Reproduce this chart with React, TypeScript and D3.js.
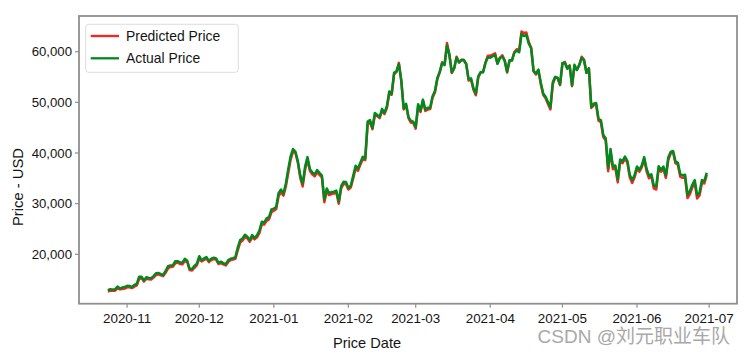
import React from "react";
import * as d3 from "d3";

const startDate = "2020-10-24";

const actualPrice: number[] = [
  12931, 13108, 13031, 13075, 13654, 13271, 13437, 13546, 13781,
  13737, 13550, 13950, 14133, 15579, 15565, 14833, 15479, 15332, 15290, 15701, 16276, 16317, 16068, 15955, 16716, 17645, 17804, 17817, 18621, 18642, 18370, 18364, 19107, 18732, 17150, 17108, 17718, 18177, 19625,
  18802, 19201, 19445, 18699, 19154, 19345, 19191, 18321, 18553, 18264, 18058, 18803, 19142, 19246, 19417, 21310, 22805, 23137, 23869, 23477, 22803, 23783, 23241, 23735, 24664, 26437, 26272, 27084, 27362, 28840, 29002,
  29374, 32127, 32782, 31971, 33992, 36824, 39371, 40797, 40254, 38356, 35566, 33922, 37316, 39187, 36825, 36178, 35792, 36631, 36070, 35548, 30826, 33006, 32068, 32289, 32367, 32569, 30433, 33467, 34316, 34270, 33115,
  33538, 35510, 37473, 36927, 38144, 39266, 38904, 46197, 46482, 44919, 47910, 47504, 47106, 48718, 47945, 49200, 52149, 51679, 55888, 56100, 57540, 54207, 48825, 49706, 47093, 46339, 46188, 45137,
  49631, 48378, 50538, 48561, 48927, 48912, 51206, 52246, 54824, 56008, 57805, 57332, 61243, 59302, 55907, 56804, 58870, 57858, 58346, 58313, 57523, 54529, 54738, 52774, 51704, 55137, 55974, 55947, 57750, 58918, 58800,
  59095, 59384, 57604, 58760, 59057, 58192, 56048, 58323, 58245, 59793, 60204, 59893, 63503, 63110, 63315, 61572, 60683, 56216, 55724, 56473, 53906, 51763, 51093, 50050, 49004, 54021, 55033, 54824, 53555, 57750,
  57828, 56631, 57200, 53333, 57424, 56396, 57356, 58803, 58232, 55859, 56704, 49150, 49716, 49880, 46760, 46456, 43537, 42909, 37002, 40782, 37304, 37536, 34770, 38705, 38402, 39294, 38436, 35697, 34616, 35678, 37332,
  36684, 37575, 39187, 36851, 35520, 35796, 33552, 33380, 37389, 36702, 37334, 35552, 39097, 40218, 40406, 38347, 38053, 35787, 35615, 35698, 31676, 32505, 33723, 34663, 31637, 32186, 34649, 34434, 36100,
];

const predictedPrice: number[] = [
  12650, 12800, 12850, 12820, 13300, 13100, 13150, 13250, 13480,
  13500, 13330, 13620, 13850, 15100, 15300, 14650, 15150, 15100, 15050, 15400, 15900, 16050, 15850, 15700, 16350, 17200, 17500, 17550, 18200, 18350, 18100, 18050, 18700, 18450, 16900, 16800, 17350, 17800, 19150,
  18600, 18900, 19150, 18450, 18850, 19050, 18950, 18100, 18250, 18000, 17800, 18450, 18850, 18950, 19100, 20800, 22300, 22700, 23400, 23150, 22500, 23350, 22950, 23350, 24200, 25900, 25900, 26600, 26900, 28300, 28600,
  28950, 31500, 32300, 31600, 33400, 36100, 38700, 40300, 40000, 38100, 35100, 33400, 36700, 38700, 36500, 35800, 35400, 36200, 35700, 35200, 30300, 32500, 31700, 31900, 32000, 32200, 30000, 33000, 33900, 33900, 32800,
  33200, 35000, 36900, 36500, 37700, 38800, 38600, 45500, 46200, 44700, 47400, 47300, 46900, 48300, 47700, 48900, 51700, 51500, 55500, 56000, 57800, 54400, 48600, 49400, 46900, 46000, 45900, 44800,
  49200, 48100, 50300, 48300, 48600, 48700, 50900, 52000, 54600, 56000, 57900, 57500, 61700, 59500, 55800, 56700, 59000, 57900, 58400, 58400, 57600, 54300, 54500, 52500, 51400, 54900, 55900, 56000, 57900, 59200, 59200,
  59400, 59700, 57700, 58800, 59300, 58300, 55900, 58200, 58300, 59900, 60500, 60200, 64000, 63700, 63800, 61900, 60800, 56100, 55500, 56300, 53600, 51500, 50800, 49700, 48600, 53600, 54900, 54800, 53400, 57600,
  58000, 56800, 57300, 53200, 57200, 56400, 57400, 59000, 58400, 55800, 56700, 48900, 49400, 49600, 46400, 46100, 43100, 42500, 36400, 40300, 36800, 37100, 34200, 38200, 38000, 38900, 38100, 35200, 34100, 35200, 36900,
  36300, 37200, 38800, 36400, 35000, 35400, 33000, 32800, 36800, 36300, 36900, 35100, 38600, 39900, 40200, 38000, 37700, 35300, 35100, 35200, 31100, 31900, 33200, 34200, 31000, 31600, 34100, 34000, 35700,
];

const yTicks: number[] = [20000, 30000, 40000, 50000, 60000];
const xTickLabels: string[] = ["2020-11", "2020-12", "2021-01", "2021-02", "2021-03", "2021-04", "2021-05", "2021-06", "2021-07"];
const seriesNames: string[] = ["Predicted Price", "Actual Price"];
const seriesColors: string[] = ["#ff2020", "#008a1e"];

const W = 746;
const H = 356;
const plot = { left: 79, top: 16, right: 737, bottom: 303.7 };
const FONT = "'Liberation Sans', Arial, sans-serif";

export default function App() {
  const parse = d3.utcParse("%Y-%m-%d");
  const start = parse(startDate)!;
  const dates = actualPrice.map((_, i) => d3.utcDay.offset(start, i));

  const x = d3
    .scaleUtc()
    .domain([new Date(Date.UTC(2020, 9, 12)), new Date(Date.UTC(2021, 6, 12, 14))])
    .range([plot.left, plot.right]);
  const y = d3.scaleLinear().domain([10250, 67050]).range([plot.bottom, plot.top]);

  const line = d3
    .line<number>()
    .x((_, i) => x(dates[i]))
    .y((d) => y(d))
    .curve(d3.curveLinear);

  const xTicks = xTickLabels.map((s) => parse(s + "-01")!);
  const fmt = d3.format(",");

  return (
    <svg
      width={W}
      height={H}
      style={{ position: "absolute", left: 0, top: 0, background: "#fff" }}
      fontFamily={FONT}
    >
      <rect x={0} y={0} width={W} height={H} fill="#fff" />
      <path d={line(predictedPrice) || ""} fill="none" stroke={seriesColors[0]} strokeWidth={2.5} strokeLinejoin="round" />
      <path d={line(actualPrice) || ""} fill="none" stroke={seriesColors[1]} strokeWidth={2.5} strokeLinejoin="round" />

      <rect
        x={plot.left}
        y={plot.top}
        width={plot.right - plot.left}
        height={plot.bottom - plot.top}
        fill="none"
        stroke="#8f8f8f"
        strokeWidth={1.8}
      />

      {yTicks.map((t) => (
        <g key={t}>
          <line x1={plot.left - 4} x2={plot.left} y1={y(t)} y2={y(t)} stroke="#8f8f8f" strokeWidth={1.2} />
          <text x={plot.left - 7} y={y(t)} textAnchor="end" dominantBaseline="central" fontSize={13.2} fill="#141414">
            {fmt(t)}
          </text>
        </g>
      ))}

      {xTicks.map((t, i) => (
        <g key={i}>
          <line x1={x(t)} x2={x(t)} y1={plot.bottom} y2={plot.bottom + 4} stroke="#8f8f8f" strokeWidth={1.2} />
          <text x={x(t)} y={322.5} textAnchor="middle" fontSize={13.4} fill="#141414">
            {xTickLabels[i]}
          </text>
        </g>
      ))}

      <text x={(plot.left + plot.right) / 2 - 41} y={347.5} textAnchor="middle" fontSize={14.6} fill="#141414">
        Price Date
      </text>
      <text
        transform={`translate(17.5, 187) rotate(-90)`}
        textAnchor="middle"
        dominantBaseline="central"
        fontSize={14.8}
        fill="#141414"
      >
        Price - USD
      </text>

      <rect x={85.7} y={24.3} width={152.6} height={48} rx={3} fill="#fff" fillOpacity={0.85} stroke="#dcdcdc" strokeWidth={1} />
      {seriesNames.map((n, i) => (
        <g key={n}>
          <line x1={90.7} x2={119} y1={36 + i * 22.3} y2={36 + i * 22.3} stroke={seriesColors[i]} strokeWidth={2.3} />
          <text x={126} y={36 + i * 22.3} dominantBaseline="central" fontSize={13.9} fill="#141414">
            {n}
          </text>
        </g>
      ))}

      <text x={730} y={343} textAnchor="end" fontSize={19} fill="#a8a8a8" fontFamily="'Liberation Sans', 'Noto Sans CJK SC', sans-serif">
        CSDN @刘元职业车队
      </text>
    </svg>
  );
}
